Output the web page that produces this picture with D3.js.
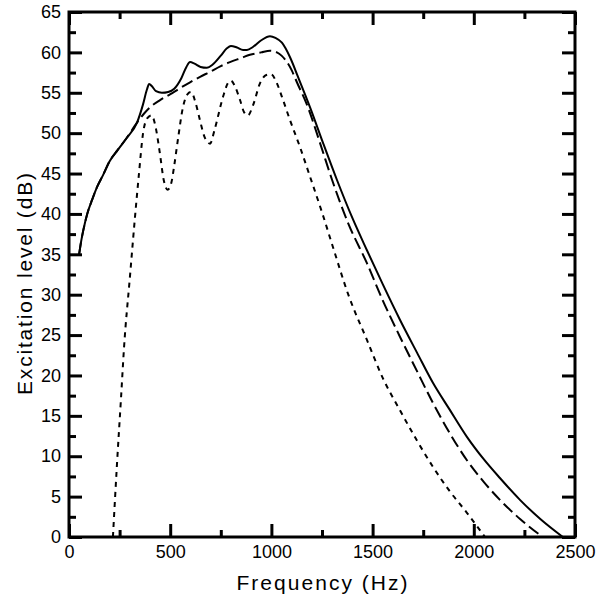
<!DOCTYPE html>
<html>
<head>
<meta charset="utf-8">
<script src="https://cdn.jsdelivr.net/npm/d3@7"></script>
<style>
  body { margin: 0; background: #fff; }
  svg { display: block; }
  .tick text { font: 18px "Liberation Sans", Arial, sans-serif; fill: #000; }
  .title { font: 21px "Liberation Sans", Arial, sans-serif; fill: #000; }
</style>
</head>
<body>
<svg width="600" height="598"></svg>
<script>
// x values (Hz) and y values (dB)
var solidHz = [50,60,70,90,115,140,170,200,240,285,336,365,385,396,410,430,459,490,520,555,580,598,620,650,681,710,750,780,800,830,860,879,910,950,993,1020,1052,1092,1131,1191,1255,1324,1400,1472,1550,1635,1720,1798,1880,1966,2050,2129,2228,2330,2440];
var solidDb = [35,36.6,37.9,40,41.8,43.4,44.9,46.5,47.9,49.4,51.3,53.5,55.4,56.1,55.8,55.2,55.0,55.1,55.5,56.8,58.2,58.8,58.6,58.2,58.1,58.5,59.6,60.5,60.8,60.6,60.3,60.3,60.7,61.5,62.0,61.8,61.2,59.4,57.0,53.2,48.8,44.2,39.5,35.5,31.3,26.9,22.8,19.1,15.8,12.4,9.6,7.3,4.6,2.2,0];

var dashHz = [50,60,70,90,115,140,170,200,240,285,336,370,400,450,499,550,598,650,697,750,795,850,894,950,993,1027,1050,1077,1100,1126,1176,1240,1300,1380,1472,1550,1635,1720,1798,1880,1966,2050,2129,2230,2340];
var dashDb = [35,36.6,37.9,40,41.8,43.4,44.9,46.5,47.9,49.4,51.3,52.4,53.2,54.1,54.8,55.6,56.3,57.0,57.6,58.3,58.8,59.3,59.7,60.0,60.2,60.0,59.6,58.8,57.8,56.3,53.5,48.8,44.2,38.8,33.9,29.3,24.8,20.5,16.6,12.9,9.5,6.8,4.6,2.2,0];

var dotHz = [217,237,257,272,301,326,345,366,385,408,430,449,468,487,505,520,538,563,585,603,625,647,670,697,720,761,785,800,820,845,865,884,910,944,975,998,1025,1052,1092,1141,1191,1250,1304,1380,1472,1550,1635,1720,1798,1880,1966,2055];
var dotDb = [0,9,17.2,23.5,32.2,39.6,44.8,50.0,51.8,52.2,50.5,47.5,44.2,43.0,43.8,46.0,49.2,53.2,54.8,55.1,53.8,51.6,49.5,48.7,50.5,54.5,56.2,56.5,55.8,54.1,52.6,52.2,53.5,56.2,57.2,57.3,56.3,54.5,51.6,48.3,44.6,40.2,35.9,30.0,24.4,19.7,15.7,11.9,8.7,5.7,3.0,0];

var xMajor = [0,500,1000,1500,2000,2500];
var xMinor = [250,750,1250,1750,2250];
var yMajor = [0,5,10,15,20,25,30,35,40,45,50,55,60,65];
var yMinor = [2.5,7.5,12.5,17.5,22.5,27.5,32.5,37.5,42.5,47.5,52.5,57.5,62.5];

var svg = d3.select("svg");
var plotL = 69, plotR = 575, plotT = 12, plotB = 537;

var x = d3.scaleLinear().domain([0, 2500]).range([plotL, plotR]);
var y = d3.scaleLinear().domain([0, 65]).range([plotB, plotT]);

// ticks, pointing inward on all four sides
function ticks(axis, tr, vals, len, labels) {
  var g = svg.append("g").attr("transform", tr)
    .call(axis.tickValues(vals).tickSize(-len).tickSizeOuter(0).tickPadding(labels ? 8 : 0)
      .tickFormat(labels ? d3.format("d") : ""));
  g.select(".domain").remove();
  g.selectAll("line").attr("stroke", "#000").attr("stroke-width", 3);
  return g;
}
ticks(d3.axisBottom(x), "translate(0," + plotB + ")", xMajor, 13, true);
ticks(d3.axisBottom(x), "translate(0," + plotB + ")", xMinor, 7, false);
ticks(d3.axisTop(x), "translate(0," + plotT + ")", xMajor, 13, false);
ticks(d3.axisTop(x), "translate(0," + plotT + ")", xMinor, 7, false);
ticks(d3.axisLeft(y), "translate(" + plotL + ",0)", yMajor, 13, true);
ticks(d3.axisLeft(y), "translate(" + plotL + ",0)", yMinor, 7, false);
ticks(d3.axisRight(y), "translate(" + plotR + ",0)", yMajor, 13, false);
ticks(d3.axisRight(y), "translate(" + plotR + ",0)", yMinor, 7, false);

svg.append("rect")
  .attr("x", plotL).attr("y", plotT)
  .attr("width", plotR - plotL).attr("height", plotB - plotT)
  .attr("fill", "none").attr("stroke", "#000").attr("stroke-width", 3);

var line = d3.line()
  .x(function(d) { return x(d[0]); })
  .y(function(d) { return y(d[1]); })
  .curve(d3.curveMonotoneX);

function drawCurve(hz, db, dash) {
  svg.append("path")
    .datum(hz.map(function(h, i) { return [h, db[i]]; }))
    .attr("d", line)
    .attr("fill", "none")
    .attr("stroke", "#000")
    .attr("stroke-width", 2)
    .attr("stroke-dasharray", dash);
}
drawCurve(solidHz, solidDb, null);
drawCurve(dashHz, dashDb, "12,5");
drawCurve(dotHz, dotDb, "5,5");

svg.append("text").attr("class", "title")
  .attr("x", (plotL + plotR) / 2).attr("y", 590)
  .attr("text-anchor", "middle")
  .attr("textLength", 171).attr("lengthAdjust", "spacing")
  .text("Frequency (Hz)");

svg.append("text").attr("class", "title")
  .attr("transform", "translate(32," + 284 + ") rotate(-90)")
  .attr("text-anchor", "middle")
  .attr("textLength", 222).attr("lengthAdjust", "spacing")
  .text("Excitation level (dB)");
</script>
</body>
</html>
